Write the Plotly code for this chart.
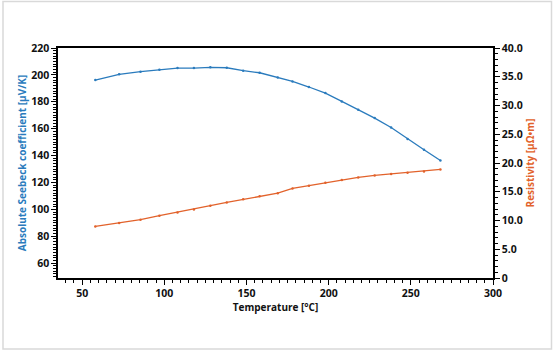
import plotly.graph_objects as go

temperature = [58, 72.5, 85.5, 97, 108, 118, 128, 138, 148, 158, 169, 178, 188, 198, 208, 218, 228, 238, 248, 258, 268]
seebeck = [196.2, 200.4, 202.4, 203.9, 205.1, 205.1, 205.6, 205.3, 203.1, 201.6, 198.1, 195.1, 191.0, 186.5, 180.3, 174.1, 167.9, 160.9, 152.3, 144.3, 136.4]
resistivity = [8.97, 9.57, 10.14, 10.83, 11.41, 11.93, 12.57, 13.15, 13.7, 14.22, 14.75, 15.58, 16.05, 16.57, 17.04, 17.5, 17.84, 18.09, 18.31, 18.54, 18.89]

BLUE = "#2a7bbd"
ORANGE = "#e2622b"
FONT = "Open Sans"

W, H = 554, 352
ML, MR, MT, MB = 58, 61, 48, 74
pw, ph = W - ML - MR, H - MT - MB

fig = go.Figure()
fig.add_trace(go.Scatter(x=temperature, y=seebeck, mode="lines+markers",
                         line=dict(color=BLUE, width=1.3),
                         marker=dict(color=BLUE, size=2.5), yaxis="y", showlegend=False))
fig.add_trace(go.Scatter(x=temperature, y=resistivity, mode="lines+markers",
                         line=dict(color=ORANGE, width=1.3),
                         marker=dict(color=ORANGE, size=2.5), yaxis="y2", showlegend=False))

tickfont = dict(family=FONT, size=10.5, color="#111111", weight="bold")

def tfont(color):
    return dict(family=FONT, size=10, color=color, weight="bold")

fig.update_layout(
    width=W, height=H,
    margin=dict(l=ML, r=MR, t=MT, b=MB, pad=0),
    paper_bgcolor="white", plot_bgcolor="white",
    font=dict(family=FONT, size=10.5, color="#111111"),
    xaxis=dict(range=[35.3, 300], tickmode="array", tickvals=[50, 100, 150, 200, 250, 300],
               showline=True, linecolor="black", linewidth=1.5, mirror=True,
               ticks="outside", ticklen=5, tickwidth=1, tickcolor="black",
               minor=dict(dtick=5, tick0=0, ticks="outside", ticklen=3, tickcolor="black", tickwidth=1),
               showgrid=False, zeroline=False, tickfont=tickfont,
               title=dict(text="Temperature [°C]", font=tfont("#111111"), standoff=1)),
    yaxis=dict(range=[49, 220], tickmode="array", tickvals=[60, 80, 100, 120, 140, 160, 180, 200, 220],
               showline=True, linecolor="black", linewidth=1.5,
               ticks="outside", ticklen=5, tickwidth=1, tickcolor="black",
               minor=dict(dtick=2, tick0=0, ticks="outside", ticklen=3, tickcolor="black", tickwidth=1),
               showgrid=False, zeroline=False, tickfont=tickfont,
               title=dict(text="Absolute Seebeck coefficient [μV/K]", font=tfont(BLUE), standoff=3)),
    yaxis2=dict(range=[0, 40], overlaying="y", side="right", tickmode="array",
                tickvals=[0, 5, 10, 15, 20, 25, 30, 35, 40],
                ticktext=["0", "5.0", "10.0", "15.0", "20.0", "25.0", "30.0", "35.0", "40.0"],
                showline=True, linecolor="black", linewidth=1.5,
                ticks="outside", ticklen=5, tickwidth=1, tickcolor="black",
                minor=dict(dtick=1, tick0=0, ticks="outside", ticklen=3, tickcolor="black", tickwidth=1),
                showgrid=False, zeroline=False, tickfont=tickfont,
                title=dict(text="Resistivity [μΩ•m]", font=tfont(ORANGE), standoff=3)),
)

# light grey frame around the whole picture
x0 = (3 - ML) / pw
x1 = (551.5 - ML) / pw
y1 = (H - MB - 1.5) / ph
y0 = (H - MB - 349) / ph
fig.add_shape(type="rect", xref="paper", yref="paper", x0=x0, x1=x1, y0=y0, y1=y1,
              line=dict(color="#d9d9d9", width=1.5), fillcolor="rgba(0,0,0,0)", layer="below")

fig.write_html("out.html")
